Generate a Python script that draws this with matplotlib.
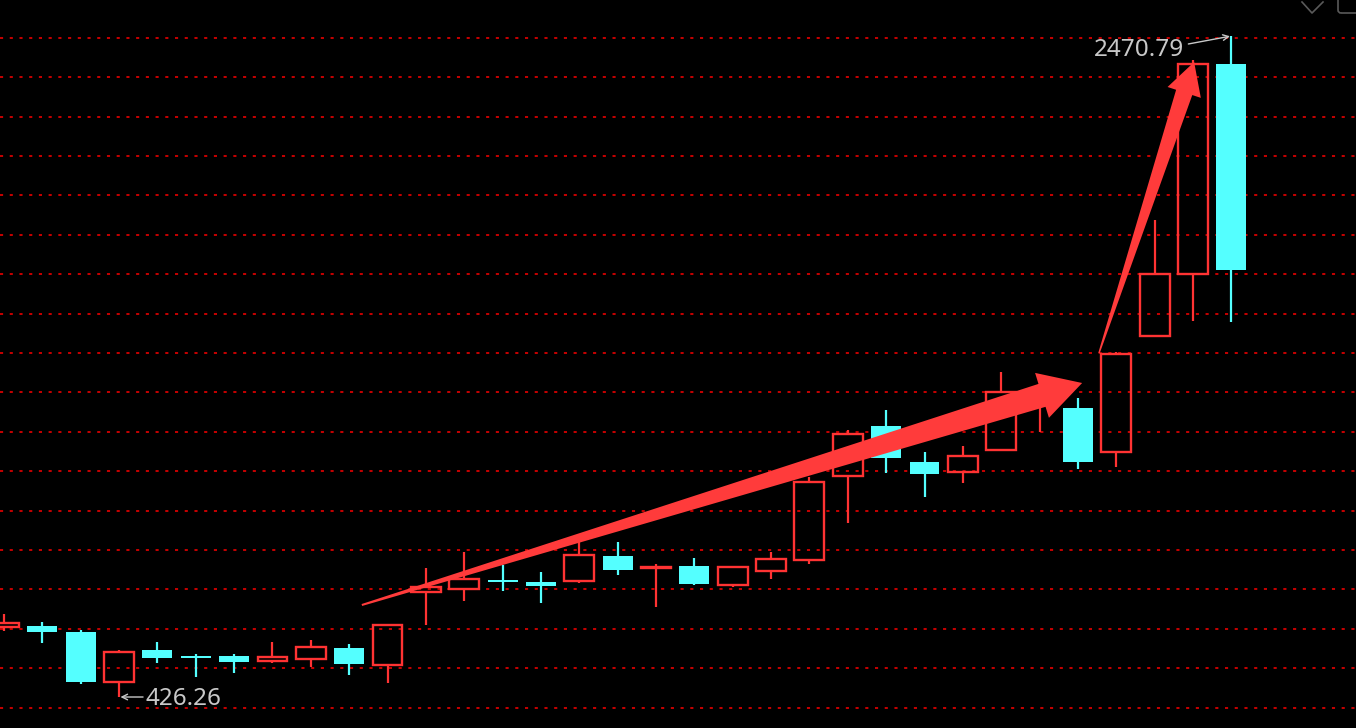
import numpy as np
import matplotlib.pyplot as plt
from matplotlib.patches import Polygon, FancyBboxPatch
from matplotlib.transforms import IdentityTransform

# candle data (one candle per slot)
opens = [642.8, 645.9, 627.3, 472.7, 571.6, 553.1, 553.1, 537.6, 543.8, 577.8,
         525.2, 751.0, 760.3, 788.1, 782.0, 785.1, 862.4, 825.3, 831.4, 772.7,
         816.0, 850.0, 1109.8, 1264.5, 1153.1, 1122.2, 1190.2, 1332.0, 1320.1, 1184.0,
         1542.8, 1734.6, 2384.1]
highs = [683.0, 658.2, 633.5, 571.6, 596.4, 559.3, 559.3, 596.4, 602.6, 590.2,
         649.0, 825.3, 874.7, 834.5, 812.9, 908.8, 905.7, 837.6, 856.2, 828.4,
         874.7, 1106.7, 1252.1, 1313.9, 1184.0, 1202.6, 1431.5, 1375.0, 1351.1, 1493.3,
         1901.6, 2396.5, 2470.79]
lows = [630.4, 593.3, 466.5, 426.26, 531.4, 488.1, 500.5, 531.4, 519.1, 494.3,
        469.6, 649.0, 723.2, 754.1, 717.0, 778.9, 803.6, 704.6, 772.7, 766.5,
        791.2, 837.6, 964.4, 1119.1, 1044.9, 1088.2, 1190.2, 1245.9, 1131.5, 1137.6,
        1542.8, 1589.2, 1586.1]
closes = [655.1, 627.3, 472.7, 565.5, 546.9, 546.9, 534.5, 550.0, 580.9, 528.3,
          649.0, 766.5, 791.2, 782.0, 769.6, 865.5, 819.1, 828.4, 775.8, 828.4,
          853.1, 1091.3, 1239.7, 1165.5, 1116.0, 1171.7, 1369.6, 1363.0, 1153.1, 1487.2,
          1734.6, 2384.1, 1747.0]

hi_label = '2470.79'
lo_label = '426.26'

# trend arrows: (tail, tip) in (slot, price)
arrow1 = [(9.33, 710.8), (28.11, 1397.5)]
arrow2 = [(28.55, 1490.3), (31.03, 2390.3)]

grid_bottom = 393.2
grid_step = 121.9

UP = '#ff3333'
DOWN = '#54ffff'
ARROW = '#ff3b3b'
TXT = '#c8c8c8'

fig = plt.figure(figsize=(13.56, 7.28), dpi=100, facecolor='black')
ax = fig.add_axes([0, 0, 1, 1])
ax.set_facecolor('black')
ax.set_xlim(-0.104, 35.25)
ax.set_ylim(330.4, 2582.1)
for s in ax.spines.values():
    s.set_visible(False)
ax.set_xticks([])
ax.set_yticks(grid_bottom + grid_step * np.arange(18))
ax.tick_params(left=False, labelleft=False)
ax.yaxis.grid(True, color='#c80000', lw=1.4, linestyle=(0, (1.6, 3.4)))
ax.set_axisbelow(True)

x = np.arange(len(opens))
o = np.array(opens)
h = np.array(highs)
l = np.array(lows)
c = np.array(closes)
up = c >= o
w = 0.78

# red (up) candles: hollow body, wicks outside the body
ax.vlines(x[up], c[up], h[up], color=UP, lw=1.6, zorder=2)
ax.vlines(x[up], l[up], o[up], color=UP, lw=1.6, zorder=2)
ax.bar(x[up], np.maximum(c[up] - o[up], 0.5), bottom=o[up], width=w,
       facecolor='none', edgecolor=UP, lw=1.7, zorder=3)

# cyan (down) candles: filled
dn = ~up
ax.vlines(x[dn], l[dn], h[dn], color=DOWN, lw=1.6, zorder=2)
ax.bar(x[dn], np.maximum(o[dn] - c[dn], 2.0), bottom=c[dn], width=w,
       color=DOWN, lw=0, zorder=3)


def fat_arrow(tail, tip, tail_w, shaft_w, head_w, head_l):
    t = ax.transData.transform(tail)
    p = ax.transData.transform(tip)
    u = (p - t) / np.hypot(*(p - t))
    n = np.array([-u[1], u[0]])
    b = p - u * head_l
    pts = [t + n * tail_w / 2, b + n * shaft_w / 2, b + n * head_w / 2, p,
           b - n * head_w / 2, b - n * shaft_w / 2, t - n * tail_w / 2]
    ax.add_patch(Polygon(pts, closed=True, transform=IdentityTransform(),
                         fc=ARROW, ec='none', zorder=6))


fat_arrow(*arrow1, tail_w=2, shaft_w=24, head_w=47, head_l=42)
fat_arrow(*arrow2, tail_w=1.5, shaft_w=17, head_w=35, head_l=32)

# high / low labels
imax = int(np.argmax(h))
imin = int(np.argmin(l))
ax.annotate('', xy=(imax, h[imax]), xytext=(-43, -8), textcoords='offset pixels',
            arrowprops=dict(arrowstyle='->', color=TXT, lw=1.0, shrinkA=0, shrinkB=1),
            zorder=7)
ax.annotate(hi_label, xy=(imax, h[imax]), xytext=(-47, -14), textcoords='offset pixels',
            ha='right', va='center', color=TXT, fontsize=17.5, family='Noto Sans', zorder=7)
ax.annotate('', xy=(imin, l[imin]), xytext=(24, 0), textcoords='offset pixels',
            arrowprops=dict(arrowstyle='->', color=TXT, lw=1.0, shrinkA=0, shrinkB=1),
            zorder=7)
ax.annotate(lo_label, xy=(imin, l[imin]), xytext=(26, -2), textcoords='offset pixels',
            ha='left', va='center', color=TXT, fontsize=17.5, family='Noto Sans', zorder=7)

# corner toolbar icons (cut off at the top edge)
H = 728
fig.add_artist(plt.Line2D([1302, 1312, 1323], [H - 2, H - 13, H - 2], color='#5a5a5a',
                          lw=1.2, transform=IdentityTransform()))
fig.add_artist(FancyBboxPatch((1338, H - 13), 30, 25, boxstyle='round,pad=0,rounding_size=3',
                              fc='none', ec='#5a5a5a', lw=1.2, transform=IdentityTransform()))

fig.savefig('out.png', dpi=100, facecolor='black')
